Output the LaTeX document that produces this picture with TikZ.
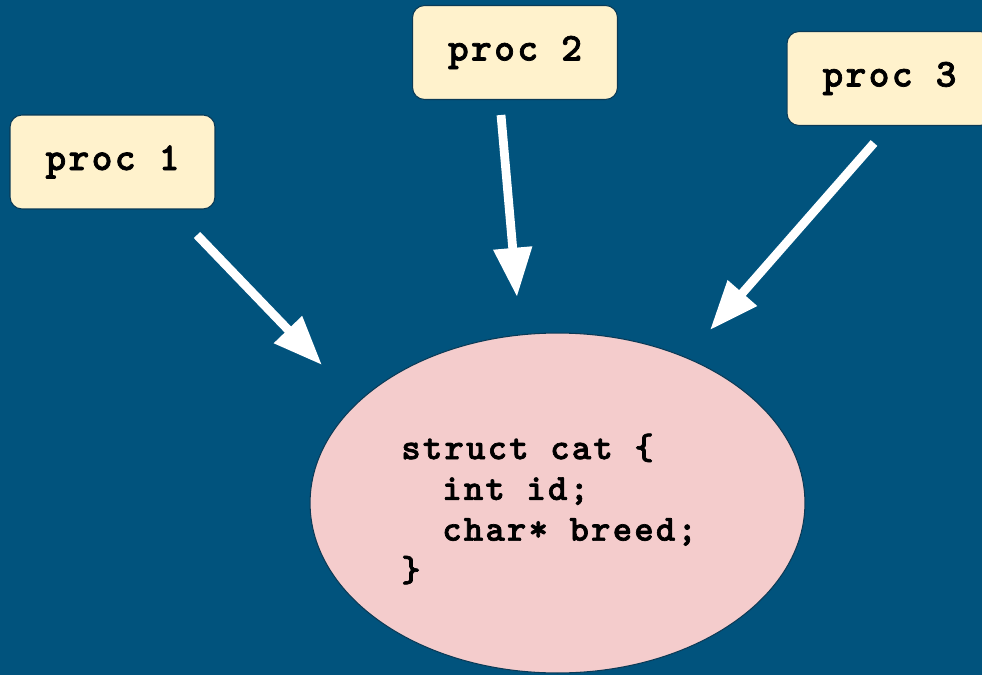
\documentclass[tikz,border=0pt]{standalone}
\usepackage{fontspec}
\newfontfamily\codefont{lmmonolt10-bold}[Extension=.otf, LetterSpace=6, FakeBold=1.8]
\usetikzlibrary{arrows.meta,shapes.geometric}

\definecolor{slidebg}{RGB}{1,83,125}
\definecolor{procfill}{HTML}{FFF2CC}
\definecolor{catfill}{HTML}{F4CCCC}
\definecolor{rim}{HTML}{0A3A56}

\begin{document}
\begin{tikzpicture}[x=0.02cm,y=-0.02cm,
  proc/.style={draw=rim, line width=0.6pt, fill=procfill, rounded corners=0.24cm,
    minimum width=4.1cm, minimum height=1.88cm,
    font=\codefont\fontsize{22.5}{26}\selectfont},
  push/.style={white, line width=5pt, -{Triangle[width=21pt,length=28pt]}}]
\def\codeskip{23.2}

% Slide
\fill[slidebg] (0,0) rectangle (982,675);
\useasboundingbox (0,0) rectangle (982,675);

% Processes
\node[proc] (proc1) at (112.5,162) {proc 1};
\node[proc] (proc2) at (515,52.5) {proc 2};
\node[proc] (proc3) at (889.5,78.5) {proc 3};

% Shared struct
\node[ellipse, draw=rim, line width=0.6pt, fill=catfill,
  minimum width=9.9cm, minimum height=6.8cm] (cat) at (557.5,503) {};
\node[anchor=west, inner sep=0pt, align=left,
  font=\codefont\fontsize{21}{\codeskip}\selectfont] (code) at (401,509)
  {struct cat \{\\
   \hphantom{xx}int id;\\
   \hphantom{xx}char* breed;\\
   \}};

% Accesses
\coordinate (from1) at (197,235);
\coordinate (to1) at (322,365);
\coordinate (from2) at (501,115);
\coordinate (to2) at (517,297);
\coordinate (from3) at (874,143);
\coordinate (to3) at (710,330);
\draw[push] (from1) -- (to1);
\draw[push] (from2) -- (to2);
\draw[push] (from3) -- (to3);

\end{tikzpicture}
\end{document}
